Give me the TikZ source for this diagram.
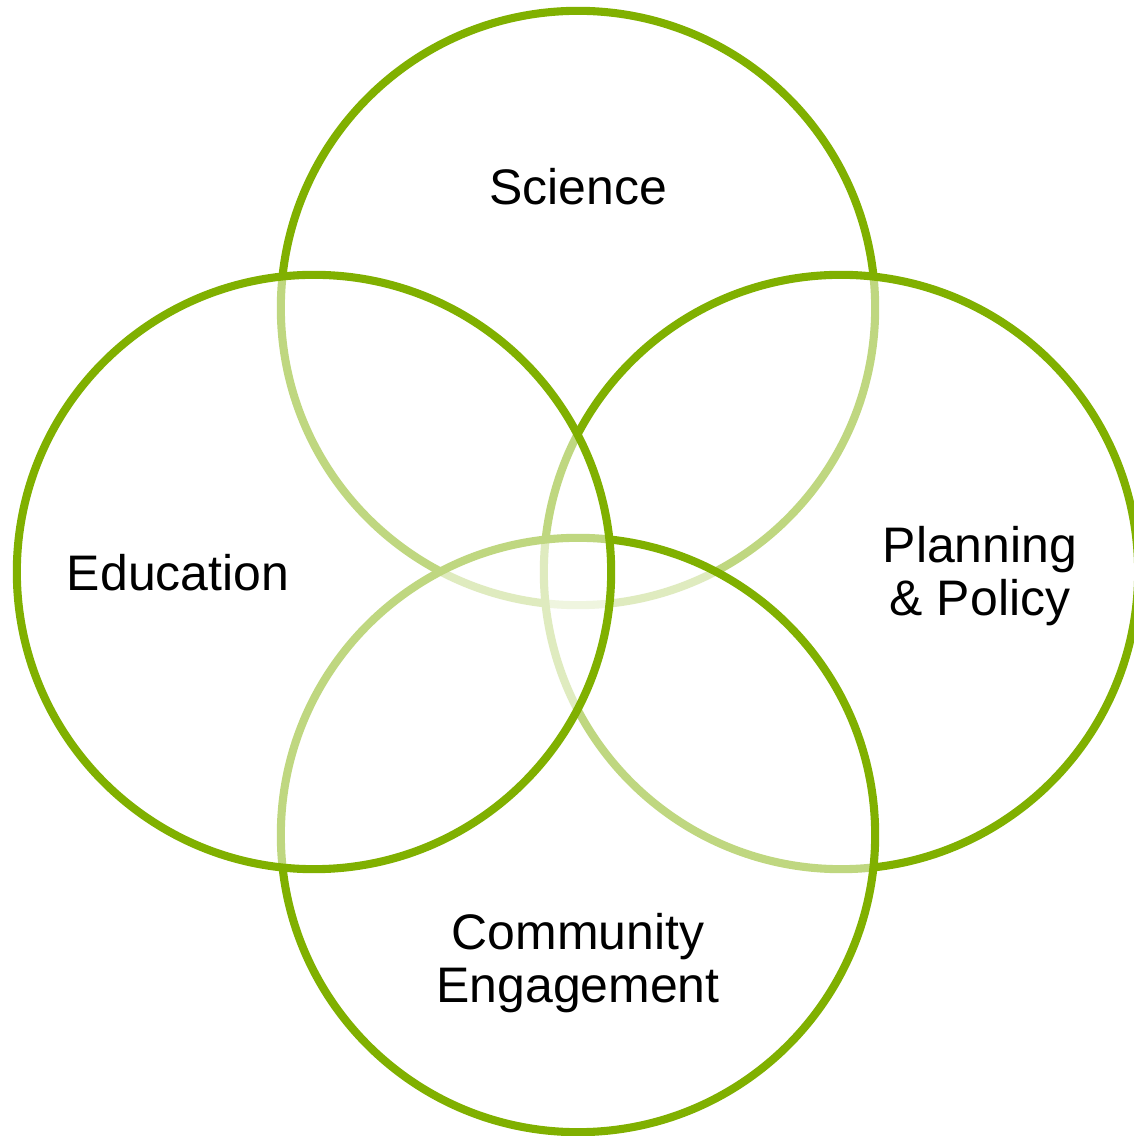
\documentclass[tikz,border=0pt]{standalone}
\usepackage{fontspec}
\setmainfont{Liberation Sans}
\usetikzlibrary{calc}
\definecolor{leaf}{RGB}{128,176,0}

\begin{document}
\begin{tikzpicture}[x=.01cm, y=.01cm,
  ring/.style={draw=leaf, line width=2.3pt, fill=white, fill opacity=.5},
  lbl/.style={align=center, text=black, font=\fontsize{14.2}{15.2}\selectfont}]
\useasboundingbox (0,0) rectangle (1134,1136);
\coordinate (sci) at (578,828);
\coordinate (edu) at (314,564);
\coordinate (pol) at (841,564);
\coordinate (com) at (578,301);
% rings, bottom one first
\foreach \c in {sci, pol, com, edu} {
 \draw[ring] (\c) circle [radius=2.97cm];
}
\node[lbl] (scilbl) at (578,949) {Science};
\node[lbl] (edulbl) at (178,563) {Education};
\node[lbl] (pollbl) at (980,560) {Planning\\\& Policy};
\node[lbl] (comlbl) at (578,173) {Community\\Engagement};
\end{tikzpicture}
\end{document}
